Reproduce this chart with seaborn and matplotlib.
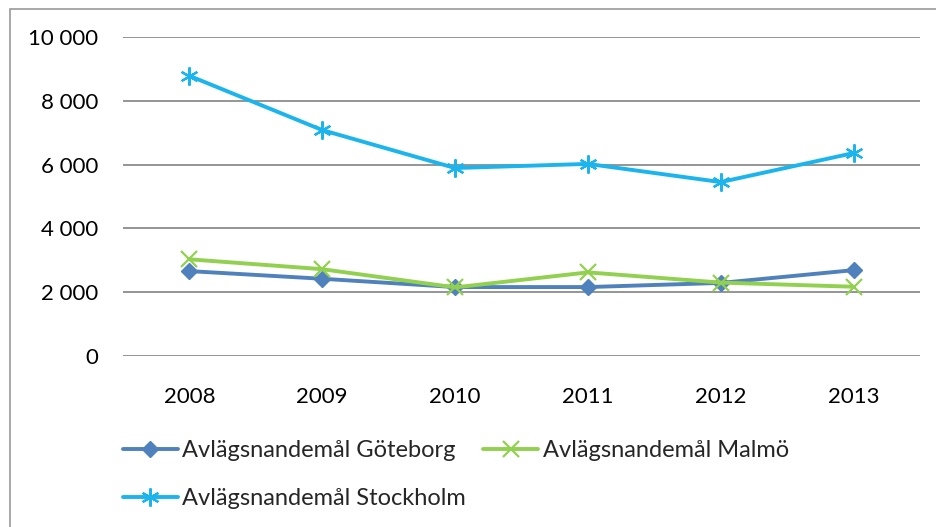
import matplotlib
matplotlib.use("Agg")
import matplotlib.pyplot as plt
import pandas as pd
import seaborn as sns
from matplotlib.patches import Rectangle

years = ["2008", "2009", "2010", "2011", "2012", "2013"]
goteborg = [2660, 2420, 2160, 2160, 2290, 2690]
malmo = [3030, 2720, 2150, 2620, 2300, 2170]
stockholm = [8780, 7080, 5890, 6020, 5450, 6360]
yticks = [0, 2000, 4000, 6000, 8000, 10000]
ytick_labels = ["0", "2 000", "4 000", "6 000", "8 000", "10 000"]

series = [
    ("Avlägsnandemål Göteborg", goteborg, "#4F81BD", "D", 8, 1),
    ("Avlägsnandemål Stockholm", stockholm, "#1CB4EC", (6, 2, 0), 13, 1.6),
    ("Avlägsnandemål Malmö", malmo, "#92D050", "x", 11, 1.6),
]

sns.set_style("white")
plt.rcParams["font.family"] = ["Lato", "DejaVu Sans"]

fig = plt.figure(figsize=(9.36, 5.27), dpi=100)
ax = fig.add_axes([0.1314, 0.3245, 0.8515, 0.6055])

# outer chart border like the Excel frame
fig.patches.append(Rectangle((10 / 936, -0.05), 1.2, 1 - 9 / 527 + 0.05,
                             transform=fig.transFigure, fill=False,
                             edgecolor="#9a9a9a", linewidth=1.2))

for name, vals, color, marker, ms, mew in series:
    df = pd.DataFrame({"year": years, "value": vals})
    sns.lineplot(data=df, x="year", y="value", ax=ax, color=color, linewidth=2.8,
                 marker=marker, markersize=ms, markeredgecolor=color,
                 markeredgewidth=mew, label=name)

ax.set_ylim(0, 10000)
ax.set_xlim(-0.5, 5.5)
ax.set_yticks(yticks)
ax.set_yticklabels(ytick_labels)
ax.yaxis.grid(True, color="#8c8c8c", linewidth=1.3)
ax.set_axisbelow(True)
for s in ax.spines.values():
    s.set_visible(False)
ax.set_xlabel("")
ax.set_ylabel("")
ax.tick_params(axis="both", length=0, labelsize=16, colors="black")
ax.tick_params(axis="y", pad=18)
ax.tick_params(axis="x", pad=22)

handles, labels = ax.get_legend_handles_labels()
ax.get_legend().remove()
fig.legend(handles, labels, ncol=2, loc="upper left", bbox_to_anchor=(0.131, 0.165),
           frameon=False, fontsize=17, handlelength=2.33, handletextpad=0.2,
           columnspacing=0.72, labelspacing=1.14, borderaxespad=0, borderpad=0)

fig.savefig("out.png", dpi=100)
